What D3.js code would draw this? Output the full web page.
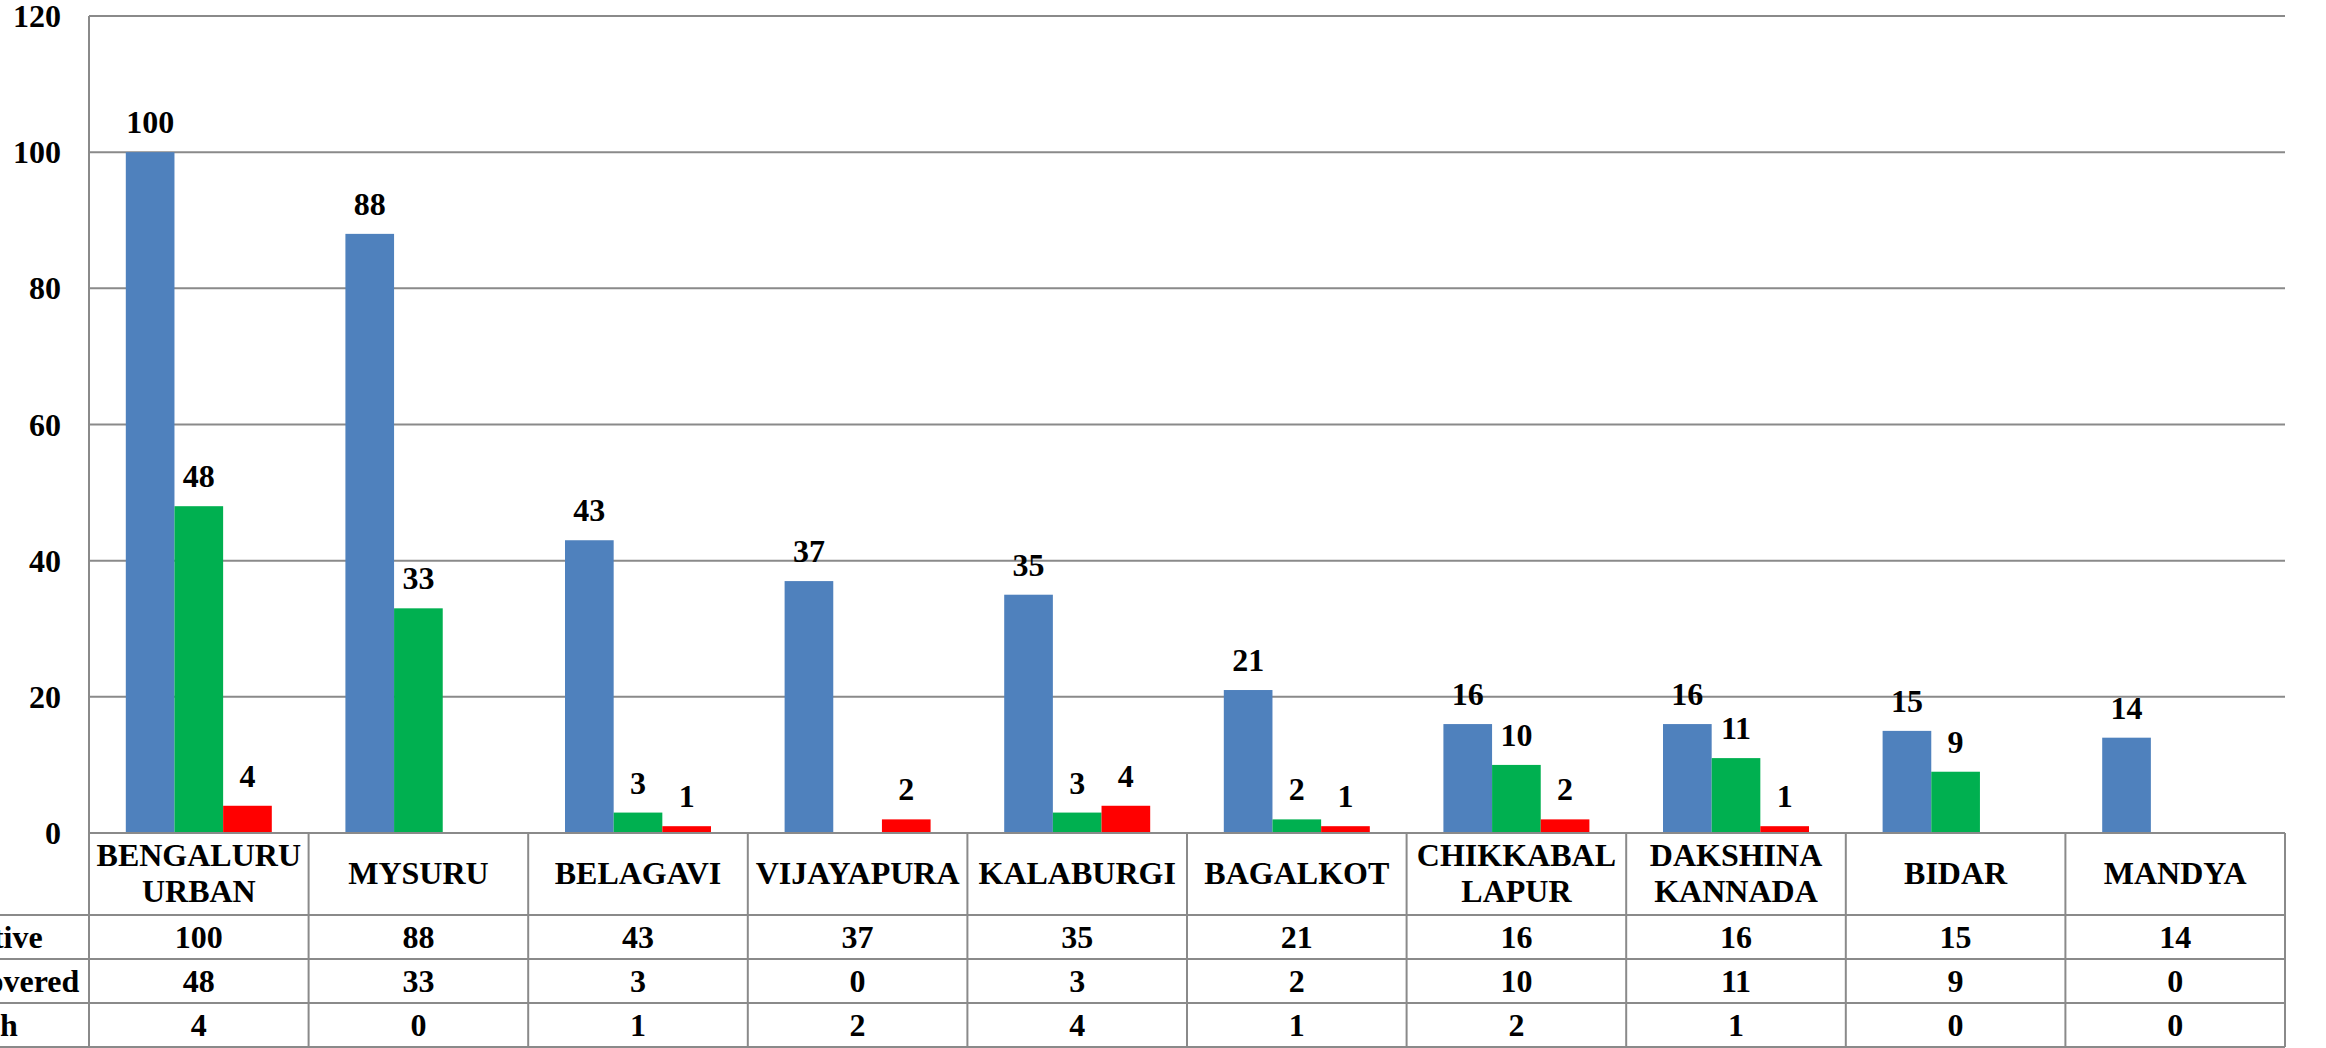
<!DOCTYPE html>
<html>
<head>
<meta charset="utf-8">
<script src="https://d3js.org/d3.v7.min.js"></script>
<style>
  html, body { margin: 0; padding: 0; background: #fff; overflow: hidden; }
  svg { display: block; }
  svg text { font-family: 'Liberation Serif', 'Times New Roman', serif; font-weight: bold; font-size: 32px; fill: #000; }
</style>
</head>
<body>
<div id="chart"></div>
<script>
const categories = ["BENGALURU\nURBAN", "MYSURU", "BELAGAVI", "VIJAYAPURA", "KALABURGI",
                    "BAGALKOT", "CHIKKABAL\nLAPUR", "DAKSHINA\nKANNADA", "BIDAR", "MANDYA"];
const seriesNames = ["Positive", "Recovered", "Death"];
const positive  = [100, 88, 43, 37, 35, 21, 16, 16, 15, 14];
const recovered = [48, 33, 3, 0, 3, 2, 10, 11, 9, 0];
const death     = [4, 0, 1, 2, 4, 1, 2, 1, 0, 0];
const yTicks = [0, 20, 40, 60, 80, 100, 120];

const values = [positive, recovered, death];
const colors = ["#4F81BD", "#00B050", "#FF0000"];

const width = 2326;
const height = 1048;
const plotLeft = 89, plotRight = 2285;
const plotTop = 16, plotBottom = 833;
const tableBottom = 1047;
const headerBottom = 915;
const gridColor = "#8a8a8a";

const svg = d3.select("#chart").append("svg")
    .attr("width", width)
    .attr("height", height)
    .attr("viewBox", [0, 0, width, height]);

// Scales
const x0 = d3.scaleBand()
    .domain(d3.range(categories.length))
    .range([plotLeft, plotRight])
    .padding(0);

const gap = x0.bandwidth() * 0.1676;
const x1 = d3.scaleBand()
    .domain(d3.range(seriesNames.length))
    .range([gap, x0.bandwidth() - gap])
    .padding(0);

const y = d3.scaleLinear()
    .domain([0, 120])
    .range([plotBottom, plotTop]);

const rowY = d3.scaleBand()
    .domain(seriesNames)
    .range([headerBottom, tableBottom]);

// Gridlines
svg.append("g")
    .attr("stroke", gridColor)
    .attr("stroke-width", 2)
  .selectAll("line")
  .data(yTicks.filter(d => d > 0))
  .join("line")
    .attr("x1", plotLeft)
    .attr("x2", plotRight)
    .attr("y1", d => y(d))
    .attr("y2", d => y(d));

// Y axis tick labels
svg.append("g")
    .attr("text-anchor", "end")
  .selectAll("text")
  .data(yTicks)
  .join("text")
    .attr("x", 61)
    .attr("y", d => y(d) + 11)
    .text(d => d);

// Bars
const flat = [];
categories.forEach((c, i) => {
  values.forEach((arr, s) => flat.push({ cat: i, s: s, v: arr[i] }));
});

svg.append("g")
  .selectAll("rect")
  .data(flat)
  .join("rect")
    .attr("x", d => x0(d.cat) + x1(d.s))
    .attr("y", d => y(d.v))
    .attr("width", x1.bandwidth())
    .attr("height", d => y(0) - y(d.v))
    .attr("fill", d => colors[d.s]);

// Bar value labels (zero values have none)
svg.append("g")
    .attr("text-anchor", "middle")
  .selectAll("text")
  .data(flat.filter(d => d.v > 0))
  .join("text")
    .attr("x", d => x0(d.cat) + x1(d.s) + x1.bandwidth() / 2)
    .attr("y", d => y(d.v) - 19)
    .text(d => d.v);

// Axis lines and data table grid
const grid = svg.append("g")
    .attr("stroke", gridColor)
    .attr("stroke-width", 2)
    .attr("fill", "none");

grid.append("line")
    .attr("x1", plotLeft).attr("x2", plotLeft)
    .attr("y1", plotTop).attr("y2", tableBottom);

grid.append("line")
    .attr("x1", plotLeft).attr("x2", plotRight)
    .attr("y1", plotBottom).attr("y2", plotBottom);

grid.selectAll("line.col")
  .data(d3.range(1, categories.length + 1))
  .join("line")
    .attr("class", "col")
    .attr("x1", d => x0(d - 1) + x0.bandwidth())
    .attr("x2", d => x0(d - 1) + x0.bandwidth())
    .attr("y1", plotBottom)
    .attr("y2", tableBottom);

grid.selectAll("line.row")
  .data(seriesNames.map(s => rowY(s)).concat([tableBottom]))
  .join("line")
    .attr("class", "row")
    .attr("x1", 0)
    .attr("x2", plotRight)
    .attr("y1", d => d)
    .attr("y2", d => d);

// Category header row
const header = svg.append("g")
    .attr("text-anchor", "middle")
  .selectAll("text")
  .data(categories)
  .join("text")
    .attr("x", (d, i) => x0(i) + x0.bandwidth() / 2)
    .attr("y", d => d.includes("\n") ? 866 : 884);

header.selectAll("tspan")
  .data(d => d.split("\n"))
  .join("tspan")
    .attr("x", function() { return this.parentNode.getAttribute("x"); })
    .attr("dy", (d, i) => i === 0 ? 0 : 36)
    .text(d => d);

// Row labels (cut off at the left edge like the original)
svg.append("g")
  .selectAll("text")
  .data(seriesNames)
  .join("text")
    .attr("x", -64)
    .attr("y", d => rowY(d) + rowY.bandwidth() / 2 + 10.5)
    .text(d => d);

// Table values
seriesNames.forEach((name, s) => {
  svg.append("g")
      .attr("text-anchor", "middle")
    .selectAll("text")
    .data(values[s])
    .join("text")
      .attr("x", (d, i) => x0(i) + x0.bandwidth() / 2)
      .attr("y", rowY(name) + rowY.bandwidth() / 2 + 10.5)
      .text(d => d);
});
</script>
</body>
</html>
